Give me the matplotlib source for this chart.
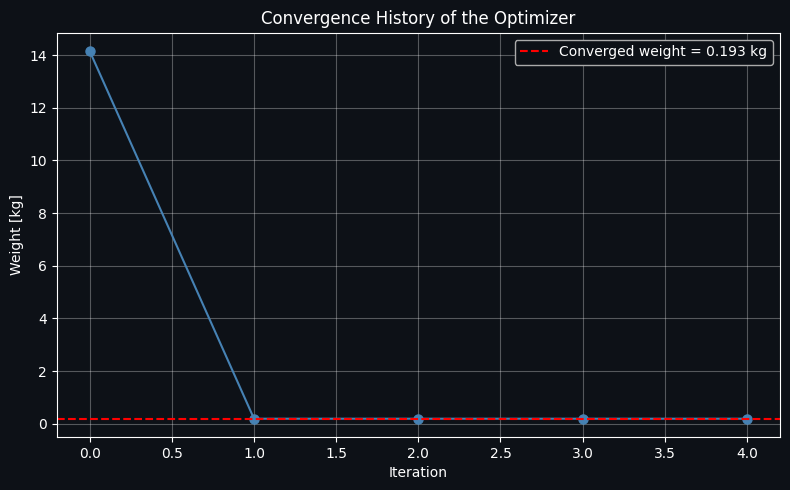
import numpy as np
import matplotlib
matplotlib.use("Agg")
import matplotlib.pyplot as plt

iterations = [0, 1, 2, 3, 4]
weights = [14.15, 0.193, 0.193, 0.193, 0.193]
converged = 0.193

bg = '#0d1117'
params = {'figure.facecolor': bg,
          'axes.facecolor': bg,
          'axes.edgecolor': 'white',
          'axes.labelcolor': 'white',
          'text.color': 'white',
          'xtick.color': 'white',
          'ytick.color': 'white',
          }
plt.rcParams.update(params)

fig, ax = plt.subplots(figsize=(7.9, 4.9), dpi=100)
fig.subplots_adjust(left=0.072, right=0.987, top=0.933, bottom=0.108)

ax.plot(iterations, weights, marker='o', markersize=6.5, color='#4682b4', linewidth=1.5)
ax.axhline(converged, color='red', linestyle='--', linewidth=1.5,
           label=f'Converged weight = {converged:.3f} kg')

ax.set_title("Convergence History of the Optimizer")
ax.set_xlabel('Iteration')
ax.set_ylabel('Weight [kg]')
ax.grid(True, color='white', alpha=0.3)

leg = ax.legend(loc='upper right', facecolor=bg, edgecolor='#aaaaaa', framealpha=1)
for t in leg.get_texts():
    t.set_color('white')

plt.savefig('out.png', facecolor=bg)
